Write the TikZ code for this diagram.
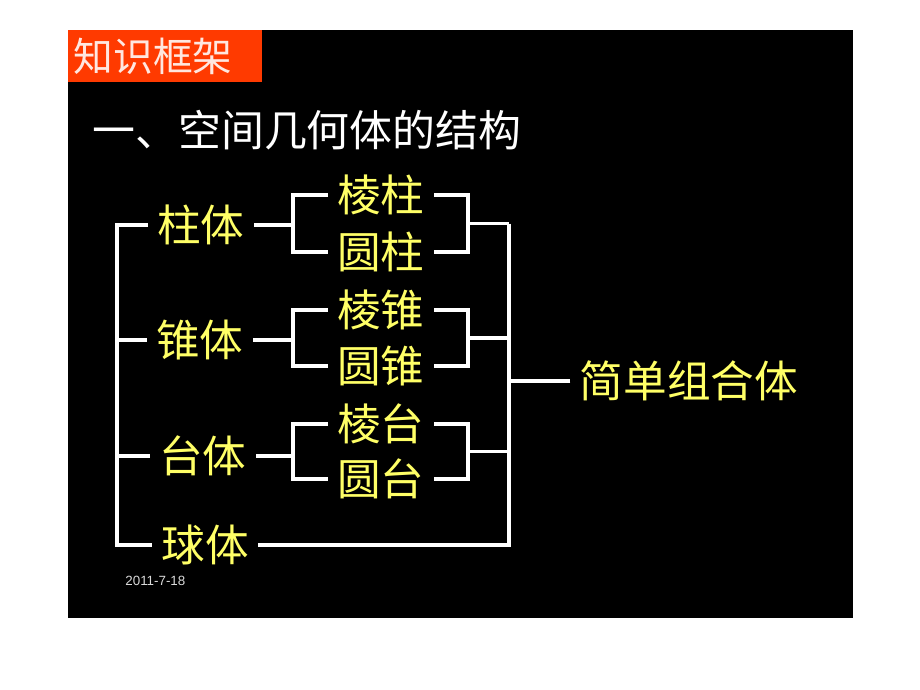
\documentclass[tikz,border=0pt]{standalone}
\usepackage{fontspec}
\newfontfamily\cjk{Noto Sans CJK SC}
\setsansfont{Liberation Sans}
\usetikzlibrary{calc}

\definecolor{titlered}{RGB}{255,58,0}
\definecolor{labelyellow}{RGB}{255,255,102}
\tikzset{
  lbl/.style={text=labelyellow, font=\cjk\fontsize{12.4}{13}\selectfont, inner sep=2.5pt},
  link/.style={draw=white, line width=0.9pt},
}

\begin{document}
\begin{tikzpicture}[x=0.01cm, y=-0.01cm]
\fill [white] (0,0) rectangle (920,690);
\fill [black] (68,30) rectangle (853,618);
\fill [titlered] (68,30) rectangle (262,82);
\node (kuangjia) at (153,56) [text=white!88!titlered, font=\cjk\fontsize{11.3}{12}\selectfont] {知识框架};
\node (heading) at (80,130) [anchor=west, text=white, font=\cjk\fontsize{12.2}{13}\selectfont] {一、空间几何体的结构};

% first column
\node [lbl] (zhuti)  at (201,225) {柱体};
\node [lbl] (zhuiti) at (200,340) {锥体};
\node [lbl] (taiti)  at (203,456) {台体};
\node [lbl] (qiuti)  at (205,545) {球体};

% second column
\node [lbl] (lengzhu)  at (381,195) {棱柱};
\node [lbl] (yuanzhu)  at (381,252) {圆柱};
\node [lbl] (lengzhui) at (381,310) {棱锥};
\node [lbl] (yuanzhui) at (381,366) {圆锥};
\node [lbl] (lengtai)  at (381,424) {棱台};
\node [lbl] (yuantai)  at (381,479) {圆台};

\node [lbl] (combo) at (689,381) {简单组合体};
\node (date) at (113,581) [anchor=west, text=white!85!black, font=\sffamily\fontsize{3.8}{4}\selectfont] {2011-7-18};

\coordinate (ls) at (117,0);
\coordinate (lb) at (293,0);
\coordinate (rb) at (468,0);
\coordinate (rs) at (509,0);

% left spine
\draw [link] (zhuti.west) -- (zhuti.west -| ls) -- (qiuti.west -| ls) -- (qiuti.west);
\draw [link] (zhuiti.west) -- (zhuiti.west -| ls);
\draw [link] (taiti.west) -- (taiti.west -| ls);

% brackets
\foreach \g/\a/\b in {zhuti/lengzhu/yuanzhu, zhuiti/lengzhui/yuanzhui, taiti/lengtai/yuantai} {
  \draw [link] (\g.east) -- (\g.east -| lb) coordinate (\g-l);
  \draw [link] (\a.west) -| (\g-l) |- (\b.west);
  \draw [link] (\a.east) -- (\a.east -| rb) coordinate (\g-r) |- (\b.east);
  \draw [link] ($(\g-r)!.5!(\g-r |- \b.east)$) coordinate (\g-m) -- (\g-m -| rs);
}

% right spine
\draw [link] (zhuti-m -| rs) -- (rs |- qiuti.east) -- (qiuti.east);
\draw [link] (combo.west) -- (combo.west -| rs);
\end{tikzpicture}
\end{document}
